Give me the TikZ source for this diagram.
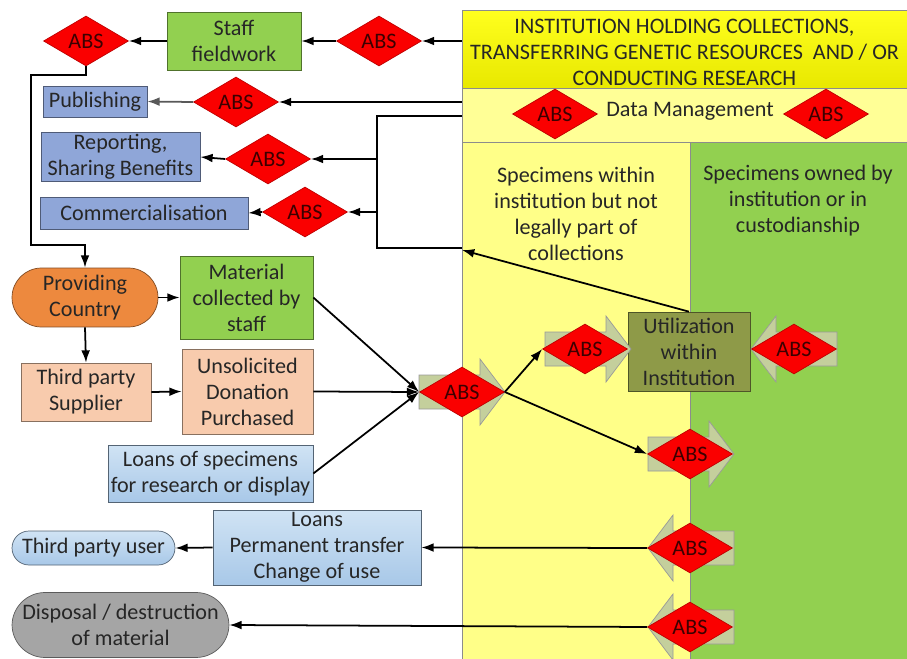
\documentclass[tikz,border=0pt]{standalone}
\usepackage{fontspec}
\setmainfont{Carlito}
\usepackage{xcolor}
\definecolor{absred}{RGB}{250,0,0}
\definecolor{absedge}{RGB}{190,0,0}
\definecolor{abstext}{RGB}{60,0,0}
\definecolor{leafgreen}{RGB}{146,208,80}
\definecolor{paleyellow}{RGB}{255,255,136}
\definecolor{bandyellow}{RGB}{255,255,150}
\definecolor{hdryellowA}{RGB}{255,255,30}
\definecolor{hdryellowB}{RGB}{232,232,0}
\definecolor{slateblue}{RGB}{143,166,216}
\definecolor{skyblueA}{RGB}{208,227,244}
\definecolor{skyblueB}{RGB}{168,200,232}
\definecolor{peach}{RGB}{248,203,173}
\definecolor{pumpkin}{RGB}{237,137,62}
\definecolor{olivebox}{RGB}{142,154,72}
\definecolor{sage}{RGB}{196,207,156}
\definecolor{ash}{RGB}{165,165,165}
\usepackage{tikz}
\usetikzlibrary{shapes.geometric,arrows.meta}

\begin{document}
\begin{tikzpicture}[x=0.02cm, y=-0.02cm, font=\fontsize{12.6}{14.8}\selectfont]
% Configuration
\tikzset{
  abs/.style={diamond, draw=absedge, fill=absred, text=abstext, minimum width=1.7cm, minimum height=1cm, inner sep=0pt},
  box/.style={draw=#1!55!black, fill=#1, text=black!85, align=center, inner sep=1pt},
  skybox/.style={draw=skyblueB!50!black, top color=skyblueA, bottom color=skyblueB, text=black!85, align=center, inner sep=1pt},
  band/.style={draw=black!45, fill=#1},
  arrowbg/.style={draw=black!40, fill=sage},
  link/.style={line width=1pt, -{Latex[length=7pt,width=5pt]}},
  absfwd/.pic={\draw[arrowbg] (-43,-17) -- (18,-17) -- (18,-33) -- (43,0) -- (18,33) -- (18,17) -- (-43,17) -- cycle;},
  absback/.pic={\draw[arrowbg] (43,-17) -- (-18,-17) -- (-18,-33) -- (-43,0) -- (-18,33) -- (-18,17) -- (43,17) -- cycle;},
}
\useasboundingbox (0,0) rectangle (907,659);

% INSTITUTION
\node[band=paleyellow, minimum width=4.56cm, minimum height=10.34cm] (colL) at (576,400.5) {};
\node[band=leafgreen, minimum width=4.34cm, minimum height=10.34cm] (colR) at (798.5,400.5) {};
\node[band=bandyellow, minimum width=8.9cm, minimum height=1.08cm] (dm) at (684.5,115) {};
\node[draw=black!45, top color=hdryellowA, bottom color=hdryellowB, minimum width=8.9cm, minimum height=1.56cm] (hdr) at (684.5,49) {};
\node[align=center, text=black!85] (hdrtext) at (684.5,52)
  {INSTITUTION HOLDING COLLECTIONS,\\TRANSFERRING GENETIC RESOURCES~~AND / OR\\CONDUCTING RESEARCH};
\node[text=black!85] (dmtext) at (690,111) {Data Management};
\node[align=center, text=black!85] (notpart) at (576,214) {Specimens within\\institution but not\\legally part of\\collections};
\node[align=center, text=black!85] (owned) at (798,201) {Specimens owned by\\institution or in\\custodianship};
\node[abs] (absDa) at (555,114) {ABS};
\node[abs] (absDb) at (826,114) {ABS};

% Utilization
\node[box=olivebox, minimum width=2.44cm, minimum height=1.58cm] (util) at (689,351.5) {Utilization\\within\\Institution};
\pic at (462,392) {absfwd};
\node[abs] (absIn) at (462,392) {ABS};
\pic at (588,349) {absfwd};
\node[abs] (absU) at (585,349) {ABS};
\pic at (794,349) {absback};
\node[abs] (absO) at (794,349) {ABS};
\pic at (691,454) {absfwd};
\node[abs] (absN) at (690,454) {ABS};
\pic at (691,548) {absback};
\node[abs] (absL) at (690,548) {ABS};
\pic at (691,627) {absback};
\node[abs] (absD) at (690,627) {ABS};

% Outputs
\node[box=leafgreen, minimum width=2.68cm, minimum height=1.16cm] (staff) at (234,41) {Staff\\fieldwork};
\node[abs] (absSa) at (379,41) {ABS};
\node[abs] (absSb) at (86,41) {ABS};
\node[box=slateblue, minimum width=2.08cm, minimum height=0.62cm] (publ) at (95,101.5) {Publishing};
\node[abs] (absP) at (236,102) {ABS};
\node[box=slateblue, minimum width=3.18cm, minimum height=0.96cm] (rep) at (120.5,157) {Reporting,\\Sharing Benefits};
\node[abs] (absR) at (268,159) {ABS};
\node[box=slateblue, minimum width=4.16cm, minimum height=0.64cm] (comm) at (144,213) {Commercialisation};
\node[abs] (absC) at (305,212) {ABS};

% Inputs
\node[box=pumpkin, rounded corners=0.59cm, minimum width=2.92cm, minimum height=1.18cm] (prov) at (85,297.5) {Providing\\Country};
\node[box=leafgreen, minimum width=2.66cm, minimum height=1.66cm] (mat) at (246.5,297.5) {Material\\collected by\\staff};
\node[box=peach, minimum width=2.6cm, minimum height=1.16cm] (third) at (86,392) {Third party\\Supplier};
\node[box=peach, minimum width=2.62cm, minimum height=1.7cm] (unsol) at (247.5,391.5) {Unsolicited\\Donation\\Purchased};
\node[skybox, minimum width=4.1cm, minimum height=1.14cm] (loanS) at (210.5,473.5) {Loans of specimens\\for research or display};

% Leaving
\node[skybox, minimum width=4.16cm, minimum height=1.5cm] (loanP) at (317,547.5) {Loans\\Permanent transfer\\Change of use};
\node[skybox, rounded corners=0.34cm, minimum width=3.26cm, minimum height=0.68cm] (tuser) at (93.5,548) {Third party user};
\node[box=ash, rounded corners=0.66cm, minimum width=4.34cm, minimum height=1.3cm] (disp) at (120.5,625) {Disposal / destruction\\of material};

% Connections
\coordinate (turn) at (31,245);
\coordinate (ret) at (462,250);
\coordinate (dmTop) at (377,116);
\coordinate (dmBot) at (377,248);
\draw[link] (absSa.east -| hdr.west) -- (absSa.east);
\draw[link] (absSa.west) -- (staff.east);
\draw[link] (staff.west) -- (absSb.east);
\draw[link] (absSb.south) -- ++(0,9) -| (turn) -| (prov.north);
\draw[link] (absP.east -| dm.west) -- (absP.east);
\draw[link, black!65] (absP.west) -- (publ.east);
\draw[line width=1pt] (dmBot -| colL.west) -- (dmBot) -- (dmTop) -- (dmTop -| dm.west);
\draw[link] (util.north) -- (ret);
\draw[link] (dmBot |- absR) -- (absR.east);
\draw[link] (dmBot |- absC) -- (absC.east);
\draw[link] (absR.west) -- (rep.east);
\draw[link] (absC.west) -- (comm.east);
\draw[link] (prov.east) -- (mat.west);
\draw[link] (prov.south) -- (third.north);
\draw[link] (third.east) -- (unsol.west);
\draw[link] (mat.east) -- (absIn.west);
\draw[link] (unsol.east) -- (absIn.west);
\draw[link] (loanS.east) -- (absIn.west);
\draw[link] (absIn.east) -- (absU.west);
\draw[link] (absIn.east) -- (absN.west);
\draw[link] (absL.west) -- (loanP.east);
\draw[link] (loanP.west) -- (tuser.east);
\draw[link] (absD.west) -- (disp.east);
\end{tikzpicture}
\end{document}
